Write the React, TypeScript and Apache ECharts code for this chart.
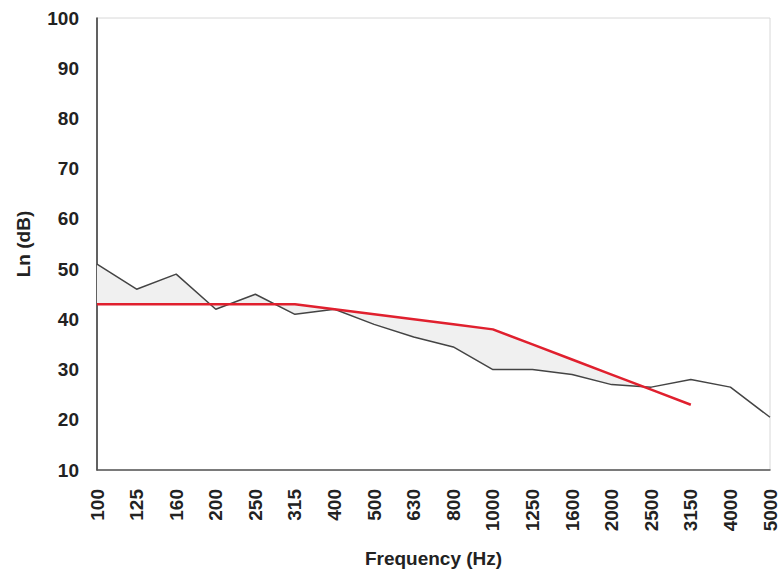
import React, { useEffect, useRef } from "react";
import * as echarts from "echarts";

const categories = ["100","125","160","200","250","315","400","500","630","800","1000","1250","1600","2000","2500","3150","4000","5000"];
const measured = [51, 46, 49, 42, 45, 41, 42, 39, 36.5, 34.5, 30, 30, 29, 27, 26.5, 28, 26.5, 20.5];
const reference = [43, 43, 43, 43, 43, 43, 42, 41, 40, 39, 38, 35, 32, 29, 26, 23];
const yTicks = { min: 10, max: 100, interval: 10 };
const shadedUpToIndex = 14;

export default function App() {
  const ref = useRef<HTMLDivElement>(null);
  useEffect(() => {
    if (!ref.current) return;
    const chart = echarts.init(ref.current, null, { renderer: "svg" });
    const font = "Liberation Sans, Arial, sans-serif";
    chart.setOption({
      animation: false,
      grid: { left: 97, right: 11, top: 18, bottom: 100, show: true, borderColor: "#d8d8d8", borderWidth: 1 },
      xAxis: {
        type: "category",
        data: categories,
        boundaryGap: false,
        name: "Frequency (Hz)",
        nameLocation: "middle",
        nameGap: 79,
        nameTextStyle: { fontFamily: font, fontWeight: "bold", fontSize: 19, color: "#222" },
        axisLine: { lineStyle: { color: "#555", width: 1.5 } },
        axisTick: { show: false },
        axisLabel: { rotate: 90, fontFamily: font, fontWeight: "bold", fontSize: 19, color: "#222", margin: 19, interval: 0 },
        splitLine: { show: false },
      },
      yAxis: {
        type: "value",
        min: yTicks.min,
        max: yTicks.max,
        interval: yTicks.interval,
        name: "Ln (dB)",
        nameLocation: "middle",
        nameGap: 64,
        nameTextStyle: { fontFamily: font, fontWeight: "bold", fontSize: 19, color: "#222" },
        axisLine: { show: true, lineStyle: { color: "#333", width: 1.5 } },
        axisTick: { show: false },
        axisLabel: { fontFamily: font, fontWeight: "bold", fontSize: 19, color: "#222", margin: 18 },
        splitLine: { show: false },
      },
      series: [
        {
          type: "custom",
          data: [[0, 0]],
          z: 1,
          silent: true,
          renderItem: (params: any, api: any) => {
            const pts: number[][] = [];
            for (let i = 0; i <= shadedUpToIndex; i++) pts.push(api.coord([i, measured[i]]));
            for (let i = shadedUpToIndex; i >= 0; i--) pts.push(api.coord([i, reference[i]]));
            return { type: "polygon", shape: { points: pts }, style: { fill: "#f0f0f0", stroke: "none" } };
          },
        },
        {
          type: "line",
          data: measured,
          symbol: "none",
          z: 3,
          lineStyle: { color: "#444", width: 1.5 },
        },
        {
          type: "line",
          data: reference,
          symbol: "none",
          z: 4,
          lineStyle: { color: "#e0202e", width: 2.5 },
        },
      ],
    });
    return () => chart.dispose();
  }, []);
  return <div ref={ref} style={{ width: 781, height: 573, position: "absolute", left: 0, top: 0, background: "#fff" }} />;
}
